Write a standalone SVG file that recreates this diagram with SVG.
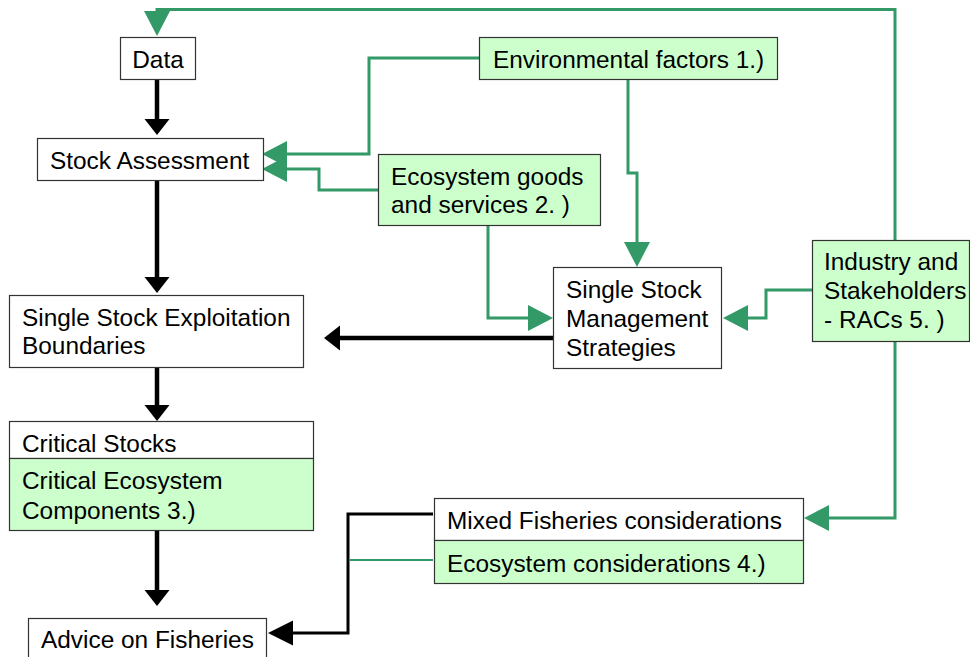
<svg xmlns="http://www.w3.org/2000/svg" width="970" height="657" viewBox="0 0 970 657">
<style>
.box{fill:#ffffff;stroke:#333333;stroke-width:1.2}
.gbox{fill:#ccffcc;stroke:#333333;stroke-width:1.2}
text{font-family:"Liberation Sans",Arial,sans-serif;font-size:24.4px;fill:#000000}
.gl{fill:none;stroke:#339966;stroke-width:3}
.gthin{fill:none;stroke:#339966;stroke-width:2}
.bl{fill:none;stroke:#000000;stroke-width:4.5}
.bthin{fill:none;stroke:#000000;stroke-width:3}
</style>
<defs>
<marker id="ga" markerUnits="userSpaceOnUse" markerWidth="26" markerHeight="27" refX="0" refY="13" orient="auto" viewBox="0 0 26 27" overflow="visible">
<path d="M0,0 L25,13 L0,26 z" fill="#339966"/>
</marker>
<marker id="ba" markerUnits="userSpaceOnUse" markerWidth="17" markerHeight="26" refX="0" refY="12.5" orient="auto" viewBox="0 0 17 26" overflow="visible">
<path d="M0,0 L16,12.5 L0,25 z" fill="#000000"/>
</marker>
<marker id="bb" markerUnits="userSpaceOnUse" markerWidth="26" markerHeight="26" refX="0" refY="12.5" orient="auto" viewBox="0 0 26 26" overflow="visible">
<path d="M0,0 L25,12.5 L0,25 z" fill="#000000"/>
</marker>
</defs>
<g id="connectors">
<path class="gl" d="M895,240 V9.5 H157 V11" marker-end="url(#ga)"/>
<path class="gl" d="M479,58 H369 V154 H287" marker-end="url(#ga)"/>
<path class="gl" d="M378,190 H319 V169 H287" marker-end="url(#ga)"/>
<path class="gl" d="M628,79 V173 H637 V242" marker-end="url(#ga)"/>
<path class="gl" d="M488,225 V318 H528" marker-end="url(#ga)"/>
<path class="gl" d="M812,290 H766 V318 H748" marker-end="url(#ga)"/>
<path class="gl" d="M895,341 V518 H829" marker-end="url(#ga)"/>
<path class="bl" d="M553,338 H340" marker-end="url(#ba)"/>
<path class="bl" d="M157,80 V119" marker-end="url(#ba)"/>
<path class="bl" d="M157,181 V277" marker-end="url(#ba)"/>
<path class="bl" d="M157,368 V405" marker-end="url(#ba)"/>
<path class="bl" d="M157,531 V590" marker-end="url(#ba)"/>
<path class="bthin" d="M433,514 H348 V633 H293" marker-end="url(#bb)"/>
<path class="gthin" d="M433,560 H349"/>
</g>
<g id="data">
<rect class="box" x="120.5" y="37.5" width="75" height="42"/>
<text x="158" y="68" text-anchor="middle">Data</text>
</g>
<g id="stock-assessment">
<rect class="box" x="37.5" y="138.5" width="226" height="42"/>
<text x="50" y="169">Stock Assessment</text>
</g>
<g id="environmental-factors">
<rect class="gbox" x="479.5" y="37.5" width="298" height="42"/>
<text x="493" y="68">Environmental factors 1.)</text>
</g>
<g id="ecosystem-goods">
<rect class="gbox" x="378.5" y="154.5" width="222" height="71"/>
<text x="391" y="185">Ecosystem goods</text>
<text x="391" y="213">and services 2. )</text>
</g>
<g id="single-stock-management">
<rect class="box" x="553.5" y="267.5" width="168" height="101"/>
<text x="566" y="298">Single Stock</text>
<text x="566" y="327">Management</text>
<text x="566" y="356">Strategies</text>
</g>
<g id="industry-stakeholders">
<rect class="gbox" x="812.5" y="240.5" width="157" height="101"/>
<text x="824" y="270">Industry and</text>
<text x="824" y="299">Stakeholders</text>
<text x="824" y="328">- RACs 5. )</text>
</g>
<g id="single-stock-exploitation">
<rect class="box" x="9.5" y="295.5" width="294" height="72"/>
<text x="22" y="326">Single Stock Exploitation</text>
<text x="22" y="354">Boundaries</text>
</g>
<g id="critical-stocks">
<rect class="box" x="9.5" y="421.5" width="304" height="37"/>
<text x="22" y="452">Critical Stocks</text>
<rect class="gbox" x="9.5" y="458.5" width="304" height="72"/>
<text x="22" y="489">Critical Ecosystem</text>
<text x="22" y="519">Components 3.)</text>
</g>
<g id="mixed-fisheries">
<rect class="box" x="434.5" y="498.5" width="369" height="42"/>
<text x="447" y="529">Mixed Fisheries considerations</text>
<rect class="gbox" x="434.5" y="540.5" width="369" height="43"/>
<text x="447" y="572">Ecosystem considerations 4.)</text>
</g>
<g id="advice">
<rect class="box" x="28.5" y="618.5" width="238" height="50"/>
<text x="41" y="648">Advice on Fisheries</text>
</g>
</svg>
